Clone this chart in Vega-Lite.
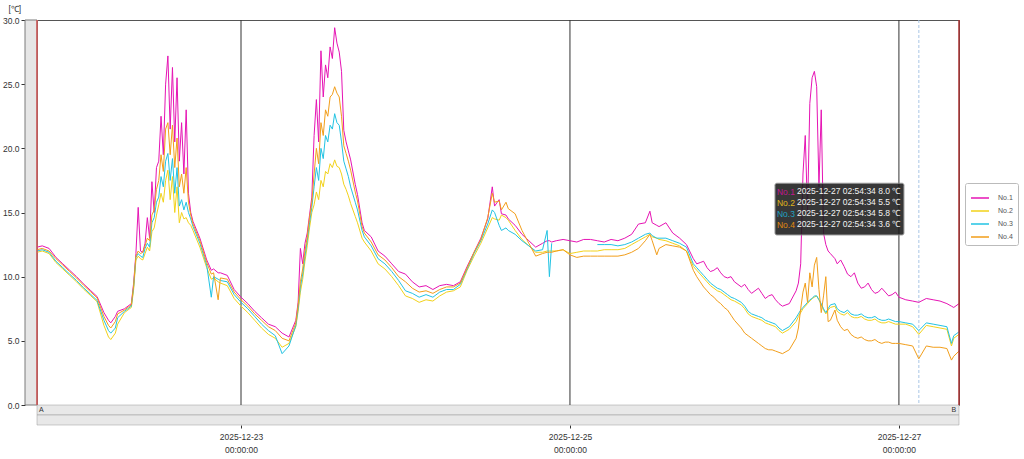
{
  "$schema": "https://vega.github.io/schema/vega-lite/v6.json",
  "width": 922,
  "height": 385,
  "autosize": {"type": "none"},
  "padding": {"left": 37, "top": 20, "right": 65, "bottom": 54},
  "background": "white",
  "config": {"view": {"stroke": "#555", "strokeWidth": 1}, "font": "Liberation Sans"},
  "data": {"values": [{}]},
  "datasets": {
    "temps": [
      {"t":"2025-12-21T18:14","n1":12.3,"n2":11.9,"n3":12.0,"n4":12.1},
      {"t":"2025-12-21T19:00","n1":12.4,"n2":12.0,"n3":12.1,"n4":12.2},
      {"t":"2025-12-21T20:00","n1":12.2,"n2":11.8,"n3":11.9,"n4":12.0},
      {"t":"2025-12-21T21:00","n1":11.5,"n2":11.1,"n3":11.2,"n4":11.4},
      {"t":"2025-12-21T22:00","n1":11.0,"n2":10.6,"n3":10.7,"n4":10.9},
      {"t":"2025-12-21T23:00","n1":10.5,"n2":10.1,"n3":10.2,"n4":10.4},
      {"t":"2025-12-22T00:00","n1":10.0,"n2":9.6,"n3":9.7,"n4":9.9},
      {"t":"2025-12-22T01:00","n1":9.45,"n2":9.05,"n3":9.15,"n4":9.35},
      {"t":"2025-12-22T02:00","n1":8.95,"n2":8.55,"n3":8.65,"n4":8.85},
      {"t":"2025-12-22T03:00","n1":8.45,"n2":8.05,"n3":8.15,"n4":8.35},
      {"t":"2025-12-22T04:00","n1":7.2,"n2":6.2,"n3":6.6,"n4":6.9},
      {"t":"2025-12-22T04:40","n1":6.6,"n2":5.3,"n3":5.8,"n4":6.2},
      {"t":"2025-12-22T05:00","n1":6.4,"n2":5.1,"n3":5.6,"n4":6.0},
      {"t":"2025-12-22T05:40","n1":6.9,"n2":5.6,"n3":6.0,"n4":6.5},
      {"t":"2025-12-22T06:00","n1":7.3,"n2":6.3,"n3":6.8,"n4":7.1},
      {"t":"2025-12-22T07:00","n1":7.5,"n2":7.2,"n3":7.3,"n4":7.4},
      {"t":"2025-12-22T08:00","n1":7.9,"n2":7.6,"n3":7.7,"n4":7.8},
      {"t":"2025-12-22T08:20","n1":9.5,"n2":9.0,"n3":9.2,"n4":9.3},
      {"t":"2025-12-22T08:40","n1":11.8,"n2":11.3,"n3":11.5,"n4":11.6},
      {"t":"2025-12-22T09:00","n1":15.4,"n2":11.6,"n3":11.8,"n4":12.0},
      {"t":"2025-12-22T09:20","n1":12.0,"n2":11.4,"n3":11.6,"n4":11.8},
      {"t":"2025-12-22T09:40","n1":11.9,"n2":11.3,"n3":11.5,"n4":11.9},
      {"t":"2025-12-22T10:00","n1":12.6,"n2":11.8,"n3":12.2,"n4":12.4},
      {"t":"2025-12-22T10:20","n1":14.6,"n2":12.3,"n3":12.6,"n4":13.0},
      {"t":"2025-12-22T10:40","n1":13.0,"n2":12.0,"n3":12.3,"n4":12.8},
      {"t":"2025-12-22T11:00","n1":17.4,"n2":13.5,"n3":14.2,"n4":14.8},
      {"t":"2025-12-22T11:20","n1":15.0,"n2":13.8,"n3":14.6,"n4":15.2},
      {"t":"2025-12-22T11:40","n1":18.5,"n2":14.8,"n3":15.8,"n4":16.8},
      {"t":"2025-12-22T12:00","n1":19.0,"n2":15.6,"n3":16.2,"n4":17.5},
      {"t":"2025-12-22T12:20","n1":22.5,"n2":16.5,"n3":17.8,"n4":19.5},
      {"t":"2025-12-22T12:40","n1":19.5,"n2":15.8,"n3":17.0,"n4":18.2},
      {"t":"2025-12-22T13:00","n1":25.0,"n2":17.5,"n3":19.0,"n4":21.5},
      {"t":"2025-12-22T13:20","n1":27.2,"n2":18.3,"n3":19.6,"n4":22.0},
      {"t":"2025-12-22T13:40","n1":21.5,"n2":16.0,"n3":17.5,"n4":19.5},
      {"t":"2025-12-22T14:00","n1":26.3,"n2":17.8,"n3":19.2,"n4":21.8},
      {"t":"2025-12-22T14:20","n1":20.5,"n2":15.0,"n3":16.5,"n4":18.5},
      {"t":"2025-12-22T14:40","n1":25.5,"n2":17.0,"n3":18.5,"n4":20.8},
      {"t":"2025-12-22T15:00","n1":19.0,"n2":14.2,"n3":15.5,"n4":17.0},
      {"t":"2025-12-22T15:20","n1":22.0,"n2":15.0,"n3":16.0,"n4":18.0},
      {"t":"2025-12-22T15:40","n1":18.0,"n2":14.5,"n3":15.2,"n4":16.5},
      {"t":"2025-12-22T16:00","n1":23.0,"n2":14.6,"n3":15.8,"n4":18.5},
      {"t":"2025-12-22T16:20","n1":16.5,"n2":14.2,"n3":15.0,"n4":15.8},
      {"t":"2025-12-22T16:40","n1":15.0,"n2":14.0,"n3":14.5,"n4":14.8},
      {"t":"2025-12-22T17:00","n1":14.3,"n2":13.6,"n3":13.9,"n4":14.1},
      {"t":"2025-12-22T18:00","n1":13.0,"n2":12.3,"n3":12.6,"n4":12.8},
      {"t":"2025-12-22T19:00","n1":11.3,"n2":10.7,"n3":10.9,"n4":11.1},
      {"t":"2025-12-22T19:40","n1":10.5,"n2":9.8,"n3":8.4,"n4":10.2},
      {"t":"2025-12-22T20:00","n1":10.6,"n2":9.9,"n3":10.0,"n4":10.3},
      {"t":"2025-12-22T20:40","n1":10.3,"n2":9.6,"n3":9.8,"n4":8.2},
      {"t":"2025-12-22T21:00","n1":10.3,"n2":9.5,"n3":9.7,"n4":9.9},
      {"t":"2025-12-22T22:00","n1":10.1,"n2":9.3,"n3":9.6,"n4":9.8},
      {"t":"2025-12-22T23:00","n1":9.0,"n2":8.3,"n3":8.6,"n4":8.8},
      {"t":"2025-12-23T00:00","n1":8.4,"n2":7.7,"n3":8.0,"n4":8.2},
      {"t":"2025-12-23T01:00","n1":7.9,"n2":7.2,"n3":7.5,"n4":7.7},
      {"t":"2025-12-23T02:00","n1":7.3,"n2":6.6,"n3":6.9,"n4":7.1},
      {"t":"2025-12-23T03:00","n1":6.8,"n2":6.0,"n3":6.3,"n4":6.6},
      {"t":"2025-12-23T04:00","n1":6.3,"n2":5.5,"n3":5.8,"n4":6.1},
      {"t":"2025-12-23T05:00","n1":6.1,"n2":5.2,"n3":5.4,"n4":5.8},
      {"t":"2025-12-23T06:00","n1":5.6,"n2":4.5,"n3":4.0,"n4":5.2},
      {"t":"2025-12-23T07:00","n1":5.3,"n2":4.8,"n3":4.6,"n4":5.0},
      {"t":"2025-12-23T08:00","n1":6.6,"n2":6.1,"n3":6.2,"n4":6.4},
      {"t":"2025-12-23T08:20","n1":8.0,"n2":7.3,"n3":7.5,"n4":7.8},
      {"t":"2025-12-23T08:40","n1":12.2,"n2":8.8,"n3":9.2,"n4":9.6},
      {"t":"2025-12-23T09:00","n1":11.0,"n2":9.8,"n3":10.2,"n4":10.6},
      {"t":"2025-12-23T09:20","n1":12.6,"n2":11.2,"n3":11.6,"n4":12.0},
      {"t":"2025-12-23T09:40","n1":13.4,"n2":12.4,"n3":12.8,"n4":13.1},
      {"t":"2025-12-23T10:00","n1":14.8,"n2":13.8,"n3":14.2,"n4":14.6},
      {"t":"2025-12-23T10:20","n1":16.2,"n2":15.0,"n3":15.4,"n4":15.8},
      {"t":"2025-12-23T10:40","n1":21.0,"n2":15.6,"n3":17.0,"n4":18.0},
      {"t":"2025-12-23T11:00","n1":23.8,"n2":16.6,"n3":18.5,"n4":20.0},
      {"t":"2025-12-23T11:20","n1":20.5,"n2":16.0,"n3":17.5,"n4":18.8},
      {"t":"2025-12-23T11:40","n1":27.6,"n2":17.5,"n3":20.0,"n4":22.0},
      {"t":"2025-12-23T12:00","n1":24.0,"n2":17.0,"n3":19.2,"n4":21.0},
      {"t":"2025-12-23T12:20","n1":26.5,"n2":18.2,"n3":21.0,"n4":23.0},
      {"t":"2025-12-23T12:40","n1":25.5,"n2":18.0,"n3":20.5,"n4":22.5},
      {"t":"2025-12-23T13:00","n1":27.9,"n2":18.8,"n3":21.8,"n4":24.0},
      {"t":"2025-12-23T13:20","n1":27.0,"n2":18.5,"n3":21.5,"n4":24.2},
      {"t":"2025-12-23T13:40","n1":29.4,"n2":19.1,"n3":22.7,"n4":24.8},
      {"t":"2025-12-23T14:00","n1":28.2,"n2":18.6,"n3":22.0,"n4":24.3},
      {"t":"2025-12-23T14:20","n1":27.5,"n2":18.5,"n3":21.8,"n4":24.0},
      {"t":"2025-12-23T14:40","n1":26.0,"n2":18.0,"n3":20.5,"n4":22.5},
      {"t":"2025-12-23T15:00","n1":21.4,"n2":17.2,"n3":19.0,"n4":20.2},
      {"t":"2025-12-23T15:20","n1":20.5,"n2":16.8,"n3":18.4,"n4":19.6},
      {"t":"2025-12-23T15:40","n1":19.8,"n2":16.3,"n3":17.8,"n4":19.0},
      {"t":"2025-12-23T16:00","n1":19.1,"n2":15.7,"n3":17.0,"n4":18.3},
      {"t":"2025-12-23T16:40","n1":17.2,"n2":14.7,"n3":15.8,"n4":16.6},
      {"t":"2025-12-23T17:00","n1":16.4,"n2":14.2,"n3":15.2,"n4":15.9},
      {"t":"2025-12-23T17:40","n1":14.2,"n2":13.0,"n3":13.6,"n4":13.9},
      {"t":"2025-12-23T18:00","n1":13.6,"n2":12.7,"n3":13.1,"n4":13.4},
      {"t":"2025-12-23T19:00","n1":13.1,"n2":12.0,"n3":12.4,"n4":12.7},
      {"t":"2025-12-23T20:00","n1":12.0,"n2":11.0,"n3":11.4,"n4":11.7},
      {"t":"2025-12-23T21:00","n1":11.6,"n2":10.6,"n3":11.0,"n4":11.3},
      {"t":"2025-12-23T22:00","n1":11.0,"n2":10.0,"n3":10.4,"n4":10.7},
      {"t":"2025-12-23T23:00","n1":10.4,"n2":9.3,"n3":9.7,"n4":10.0},
      {"t":"2025-12-24T00:00","n1":10.2,"n2":8.5,"n3":8.9,"n4":9.6},
      {"t":"2025-12-24T01:00","n1":9.6,"n2":8.3,"n3":8.7,"n4":9.1},
      {"t":"2025-12-24T02:00","n1":9.2,"n2":8.0,"n3":8.4,"n4":8.8},
      {"t":"2025-12-24T03:00","n1":9.3,"n2":8.2,"n3":8.6,"n4":8.9},
      {"t":"2025-12-24T04:00","n1":9.0,"n2":8.1,"n3":8.4,"n4":8.7},
      {"t":"2025-12-24T05:00","n1":9.3,"n2":8.5,"n3":8.8,"n4":9.0},
      {"t":"2025-12-24T06:00","n1":9.4,"n2":8.8,"n3":9.0,"n4":9.2},
      {"t":"2025-12-24T07:00","n1":9.3,"n2":8.9,"n3":9.0,"n4":9.2},
      {"t":"2025-12-24T08:00","n1":9.6,"n2":9.2,"n3":9.4,"n4":9.5},
      {"t":"2025-12-24T09:00","n1":10.8,"n2":10.5,"n3":10.6,"n4":10.7},
      {"t":"2025-12-24T10:00","n1":11.9,"n2":11.6,"n3":11.8,"n4":11.9},
      {"t":"2025-12-24T11:00","n1":13.0,"n2":12.6,"n3":12.8,"n4":12.9},
      {"t":"2025-12-24T12:00","n1":14.5,"n2":13.8,"n3":14.1,"n4":14.6},
      {"t":"2025-12-24T12:40","n1":17.0,"n2":14.6,"n3":15.2,"n4":16.5},
      {"t":"2025-12-24T13:00","n1":15.5,"n2":14.5,"n3":15.0,"n4":15.8},
      {"t":"2025-12-24T13:40","n1":16.0,"n2":14.4,"n3":14.0,"n4":15.9},
      {"t":"2025-12-24T14:00","n1":14.9,"n2":14.8,"n3":13.6,"n4":15.2},
      {"t":"2025-12-24T14:40","n1":14.8,"n2":14.6,"n3":13.8,"n4":15.8},
      {"t":"2025-12-24T15:00","n1":14.5,"n2":14.4,"n3":13.6,"n4":15.3},
      {"t":"2025-12-24T16:00","n1":14.0,"n2":13.6,"n3":13.3,"n4":14.9},
      {"t":"2025-12-24T17:00","n1":13.3,"n2":12.9,"n3":12.8,"n4":13.6},
      {"t":"2025-12-24T18:00","n1":12.8,"n2":12.4,"n3":12.4,"n4":12.6},
      {"t":"2025-12-24T19:00","n1":12.3,"n2":11.9,"n3":12.0,"n4":11.6},
      {"t":"2025-12-24T20:00","n1":12.6,"n2":11.9,"n3":12.1,"n4":11.8},
      {"t":"2025-12-24T20:40","n1":12.8,"n2":12.0,"n3":13.6,"n4":11.9},
      {"t":"2025-12-24T21:00","n1":12.8,"n2":12.0,"n3":10.0,"n4":11.9},
      {"t":"2025-12-24T21:20","n1":12.7,"n2":12.0,"n3":12.6,"n4":11.9},
      {"t":"2025-12-24T22:00","n1":12.8,"n2":12.0,"n3":null,"n4":12.0},
      {"t":"2025-12-24T23:00","n1":12.9,"n2":12.1,"n3":null,"n4":12.1},
      {"t":"2025-12-25T00:00","n1":12.8,"n2":11.8,"n3":null,"n4":11.7},
      {"t":"2025-12-25T01:00","n1":12.7,"n2":11.9,"n3":null,"n4":11.5},
      {"t":"2025-12-25T02:00","n1":12.9,"n2":12.0,"n3":null,"n4":11.6},
      {"t":"2025-12-25T03:00","n1":12.9,"n2":12.0,"n3":null,"n4":11.6},
      {"t":"2025-12-25T04:00","n1":12.8,"n2":12.0,"n3":12.5,"n4":11.6},
      {"t":"2025-12-25T05:00","n1":12.7,"n2":12.1,"n3":12.5,"n4":11.6},
      {"t":"2025-12-25T06:00","n1":12.9,"n2":12.1,"n3":12.5,"n4":11.6},
      {"t":"2025-12-25T07:00","n1":12.8,"n2":12.1,"n3":12.4,"n4":11.6},
      {"t":"2025-12-25T08:00","n1":13.0,"n2":12.2,"n3":12.5,"n4":11.7},
      {"t":"2025-12-25T09:00","n1":13.3,"n2":12.5,"n3":12.7,"n4":11.9},
      {"t":"2025-12-25T10:00","n1":14.1,"n2":12.8,"n3":13.0,"n4":12.2},
      {"t":"2025-12-25T11:00","n1":14.2,"n2":13.1,"n3":13.3,"n4":12.8},
      {"t":"2025-12-25T11:40","n1":15.1,"n2":13.3,"n3":13.4,"n4":13.3},
      {"t":"2025-12-25T12:00","n1":14.2,"n2":13.1,"n3":13.2,"n4":12.8},
      {"t":"2025-12-25T12:40","n1":14.0,"n2":13.0,"n3":13.0,"n4":11.7},
      {"t":"2025-12-25T13:00","n1":13.9,"n2":12.9,"n3":13.0,"n4":12.2},
      {"t":"2025-12-25T14:00","n1":14.2,"n2":12.8,"n3":13.0,"n4":12.5},
      {"t":"2025-12-25T15:00","n1":13.4,"n2":12.6,"n3":12.8,"n4":12.4},
      {"t":"2025-12-25T16:00","n1":13.0,"n2":12.4,"n3":12.6,"n4":12.3},
      {"t":"2025-12-25T17:00","n1":12.5,"n2":12.0,"n3":12.3,"n4":12.0},
      {"t":"2025-12-25T18:00","n1":11.4,"n2":10.8,"n3":11.0,"n4":10.5},
      {"t":"2025-12-25T18:30","n1":11.0,"n2":10.5,"n3":10.7,"n4":10.0},
      {"t":"2025-12-25T19:00","n1":11.1,"n2":10.2,"n3":10.4,"n4":9.6},
      {"t":"2025-12-25T19:30","n1":11.2,"n2":9.9,"n3":10.1,"n4":9.2},
      {"t":"2025-12-25T20:00","n1":10.7,"n2":9.6,"n3":9.8,"n4":8.9},
      {"t":"2025-12-25T20:30","n1":10.4,"n2":9.3,"n3":9.5,"n4":8.6},
      {"t":"2025-12-25T21:00","n1":10.5,"n2":9.1,"n3":9.3,"n4":8.4},
      {"t":"2025-12-25T21:30","n1":10.7,"n2":8.9,"n3":9.1,"n4":8.1},
      {"t":"2025-12-25T22:00","n1":10.3,"n2":8.8,"n3":9.0,"n4":7.9},
      {"t":"2025-12-25T22:30","n1":10.0,"n2":8.6,"n3":8.8,"n4":7.6},
      {"t":"2025-12-25T23:00","n1":9.9,"n2":8.4,"n3":8.6,"n4":7.4},
      {"t":"2025-12-25T23:30","n1":10.0,"n2":8.2,"n3":8.4,"n4":7.0},
      {"t":"2025-12-26T00:00","n1":9.6,"n2":8.1,"n3":8.3,"n4":6.6},
      {"t":"2025-12-26T01:00","n1":9.2,"n2":7.8,"n3":8.0,"n4":6.0},
      {"t":"2025-12-26T01:30","n1":9.4,"n2":7.5,"n3":7.7,"n4":5.6},
      {"t":"2025-12-26T02:00","n1":9.0,"n2":7.1,"n3":7.3,"n4":5.4},
      {"t":"2025-12-26T02:30","n1":8.7,"n2":6.9,"n3":7.1,"n4":5.2},
      {"t":"2025-12-26T03:00","n1":8.9,"n2":6.8,"n3":7.0,"n4":5.0},
      {"t":"2025-12-26T03:30","n1":9.1,"n2":6.7,"n3":6.9,"n4":4.8},
      {"t":"2025-12-26T04:00","n1":8.7,"n2":6.6,"n3":6.8,"n4":4.6},
      {"t":"2025-12-26T04:30","n1":8.3,"n2":6.4,"n3":6.6,"n4":4.4},
      {"t":"2025-12-26T05:00","n1":8.5,"n2":6.3,"n3":6.5,"n4":4.3},
      {"t":"2025-12-26T05:30","n1":8.6,"n2":6.2,"n3":6.4,"n4":4.3},
      {"t":"2025-12-26T06:00","n1":8.2,"n2":6.1,"n3":6.3,"n4":4.2},
      {"t":"2025-12-26T06:30","n1":7.9,"n2":5.8,"n3":6.0,"n4":4.1},
      {"t":"2025-12-26T07:00","n1":7.7,"n2":5.6,"n3":5.8,"n4":4.0},
      {"t":"2025-12-26T08:00","n1":7.9,"n2":5.9,"n3":6.1,"n4":4.3},
      {"t":"2025-12-26T09:00","n1":8.9,"n2":6.5,"n3":6.8,"n4":5.2},
      {"t":"2025-12-26T09:20","n1":9.5,"n2":6.9,"n3":7.1,"n4":6.0},
      {"t":"2025-12-26T09:40","n1":11.0,"n2":7.2,"n3":7.4,"n4":7.5},
      {"t":"2025-12-26T10:00","n1":18.0,"n2":7.5,"n3":7.6,"n4":8.8},
      {"t":"2025-12-26T10:20","n1":21.0,"n2":7.7,"n3":7.8,"n4":9.5},
      {"t":"2025-12-26T10:40","n1":15.0,"n2":7.9,"n3":8.0,"n4":8.0},
      {"t":"2025-12-26T11:00","n1":23.5,"n2":8.1,"n3":8.2,"n4":10.3},
      {"t":"2025-12-26T11:20","n1":25.5,"n2":8.3,"n3":8.3,"n4":9.2},
      {"t":"2025-12-26T11:40","n1":26.0,"n2":8.4,"n3":8.5,"n4":10.9},
      {"t":"2025-12-26T12:00","n1":24.8,"n2":8.5,"n3":8.5,"n4":11.5},
      {"t":"2025-12-26T12:20","n1":17.0,"n2":8.2,"n3":8.2,"n4":9.0},
      {"t":"2025-12-26T12:40","n1":23.0,"n2":7.8,"n3":7.9,"n4":7.2},
      {"t":"2025-12-26T13:00","n1":13.4,"n2":7.4,"n3":7.5,"n4":8.5},
      {"t":"2025-12-26T13:20","n1":12.5,"n2":7.1,"n3":7.2,"n4":10.0},
      {"t":"2025-12-26T13:40","n1":12.0,"n2":7.4,"n3":7.5,"n4":6.5},
      {"t":"2025-12-26T14:00","n1":11.8,"n2":7.6,"n3":7.8,"n4":6.6},
      {"t":"2025-12-26T14:40","n1":11.4,"n2":7.7,"n3":7.9,"n4":7.4},
      {"t":"2025-12-26T15:00","n1":11.0,"n2":7.3,"n3":7.5,"n4":6.6},
      {"t":"2025-12-26T15:30","n1":11.3,"n2":7.1,"n3":7.3,"n4":6.1},
      {"t":"2025-12-26T16:00","n1":10.8,"n2":7.0,"n3":7.2,"n4":5.8},
      {"t":"2025-12-26T16:30","n1":10.2,"n2":7.2,"n3":7.4,"n4":5.9},
      {"t":"2025-12-26T17:00","n1":10.0,"n2":6.9,"n3":7.1,"n4":5.5},
      {"t":"2025-12-26T17:30","n1":10.3,"n2":6.8,"n3":7.0,"n4":5.3},
      {"t":"2025-12-26T18:00","n1":9.5,"n2":6.8,"n3":7.0,"n4":5.2},
      {"t":"2025-12-26T18:30","n1":9.1,"n2":6.9,"n3":7.1,"n4":5.3},
      {"t":"2025-12-26T19:00","n1":9.2,"n2":6.7,"n3":6.9,"n4":5.1},
      {"t":"2025-12-26T19:30","n1":9.5,"n2":6.6,"n3":6.8,"n4":5.0},
      {"t":"2025-12-26T20:00","n1":9.0,"n2":6.6,"n3":6.8,"n4":5.0},
      {"t":"2025-12-26T20:30","n1":8.7,"n2":6.7,"n3":6.9,"n4":5.1},
      {"t":"2025-12-26T21:00","n1":8.8,"n2":6.5,"n3":6.7,"n4":4.9},
      {"t":"2025-12-26T21:30","n1":9.1,"n2":6.4,"n3":6.6,"n4":4.8},
      {"t":"2025-12-26T22:00","n1":8.8,"n2":6.4,"n3":6.6,"n4":4.9},
      {"t":"2025-12-26T22:30","n1":8.5,"n2":6.5,"n3":6.7,"n4":4.9},
      {"t":"2025-12-26T23:00","n1":8.6,"n2":6.4,"n3":6.6,"n4":4.8},
      {"t":"2025-12-26T23:30","n1":8.8,"n2":6.3,"n3":6.5,"n4":4.8},
      {"t":"2025-12-27T00:00","n1":8.4,"n2":6.3,"n3":6.5,"n4":4.8},
      {"t":"2025-12-27T01:00","n1":8.2,"n2":6.3,"n3":6.4,"n4":4.7},
      {"t":"2025-12-27T02:00","n1":8.1,"n2":6.1,"n3":6.3,"n4":4.6},
      {"t":"2025-12-27T02:54","n1":8.0,"n2":5.5,"n3":5.8,"n4":3.6},
      {"t":"2025-12-27T04:00","n1":8.3,"n2":6.2,"n3":6.4,"n4":4.6},
      {"t":"2025-12-27T05:00","n1":8.2,"n2":6.1,"n3":6.3,"n4":4.5},
      {"t":"2025-12-27T06:00","n1":8.1,"n2":6.0,"n3":6.2,"n4":4.5},
      {"t":"2025-12-27T07:00","n1":7.9,"n2":5.9,"n3":6.1,"n4":4.4},
      {"t":"2025-12-27T07:40","n1":7.7,"n2":4.6,"n3":4.8,"n4":3.5},
      {"t":"2025-12-27T08:00","n1":7.6,"n2":5.2,"n3":5.4,"n4":3.8},
      {"t":"2025-12-27T08:46","n1":7.9,"n2":5.5,"n3":5.7,"n4":4.2}
    ],
    "days": [{"d":"2025-12-23T00:00"},{"d":"2025-12-25T00:00"},{"d":"2025-12-27T00:00"}]
  },
  "layer": [
    {
      "mark": {"type": "rect", "fill": "#e6e6e6", "stroke": "#7a7a7a", "strokeWidth": 1},
      "encoding": {
        "x": {"datum": {"year":2025,"month":12,"date":21,"hours":16,"minutes":29}, "type": "temporal"},
        "x2": {"datum": {"year":2025,"month":12,"date":21,"hours":18,"minutes":14}},
        "y": {"datum": 0, "type": "quantitative"},
        "y2": {"datum": 30}
      }
    },
    {
      "mark": {"type": "rect", "fill": "#e8e8e8", "stroke": "#9a9a9a", "strokeWidth": 0.5},
      "encoding": {
        "x": {"datum": {"year":2025,"month":12,"date":21,"hours":18,"minutes":14}, "type": "temporal"},
        "x2": {"datum": {"year":2025,"month":12,"date":27,"hours":8,"minutes":46}},
        "y": {"datum": 0, "type": "quantitative"},
        "y2": {"datum": -0.78}
      }
    },
    {
      "mark": {"type": "rect", "fill": "#e8e8e8", "stroke": "#9a9a9a", "strokeWidth": 0.5},
      "encoding": {
        "x": {"datum": {"year":2025,"month":12,"date":21,"hours":18,"minutes":14}, "type": "temporal"},
        "x2": {"datum": {"year":2025,"month":12,"date":27,"hours":8,"minutes":46}},
        "y": {"datum": -0.78, "type": "quantitative"},
        "y2": {"datum": -1.56}
      }
    },
    {
      "mark": {"type": "text", "text": "A", "fontSize": 7, "color": "#333"},
      "encoding": {
        "x": {"datum": {"year":2025,"month":12,"date":21,"hours":18,"minutes":52}, "type": "temporal"},
        "y": {"datum": -0.39, "type": "quantitative"}
      }
    },
    {
      "mark": {"type": "text", "text": "B", "fontSize": 7, "color": "#333"},
      "encoding": {
        "x": {"datum": {"year":2025,"month":12,"date":27,"hours":8,"minutes":0}, "type": "temporal"},
        "y": {"datum": -0.39, "type": "quantitative"}
      }
    },
    {
      "data": {"name": "days"},
      "mark": {"type": "rule", "color": "#333", "strokeWidth": 1},
      "encoding": {
        "x": {"field": "d", "type": "temporal"}
      }
    },
    {
      "mark": {"type": "rule", "color": "#a9c6e6", "strokeWidth": 1, "strokeDash": [3, 2]},
      "encoding": {
        "x": {"datum": {"year":2025,"month":12,"date":27,"hours":2,"minutes":54,"seconds":34}, "type": "temporal"}
      }
    },
    {
      "data": {"name": "temps"},
      "transform": [{"fold": ["n1", "n2", "n3", "n4"], "as": ["series", "value"]}],
      "mark": {"type": "line", "strokeWidth": 1, "invalid": "break-paths-show-domains"},
      "encoding": {
        "x": {
          "field": "t", "type": "temporal", "title": null,
          "scale": {"domain": [{"year":2025,"month":12,"date":21,"hours":18,"minutes":14}, {"year":2025,"month":12,"date":27,"hours":8,"minutes":46}]},
          "axis": {
            "values": [{"year":2025,"month":12,"date":23}, {"year":2025,"month":12,"date":25}, {"year":2025,"month":12,"date":27}],
            "labelExpr": "[timeFormat(datum.value, '%Y-%m-%d'), timeFormat(datum.value, '%H:%M:%S')]",
            "grid": false, "domain": false, "offset": 20, "tickSize": 3, "tickColor": "#333",
            "labelPadding": 4, "labelFontSize": 8.5, "labelColor": "#333", "labelLineHeight": 13
          }
        },
        "y": {
          "field": "value", "type": "quantitative", "title": "[℃]",
          "scale": {"domain": [0, 30], "nice": false},
          "axis": {
            "values": [0, 5, 10, 15, 20, 25, 30], "format": ".1f",
            "grid": false, "domain": false, "offset": 12, "tickSize": 4, "tickColor": "#333",
            "labelFontSize": 8.5, "labelColor": "#333", "labelPadding": 2,
            "titleAngle": 0, "titleX": -17, "titleY": -12, "titleAlign": "left", "titleBaseline": "middle",
            "titleFontSize": 8.5, "titleFontWeight": "normal", "titleColor": "#333"
          }
        },
        "color": {
          "field": "series", "type": "nominal",
          "scale": {"domain": ["n1", "n2", "n3", "n4"], "range": ["#e614b4", "#f2d21a", "#22c3e3", "#f29e1a"]},
          "legend": {
            "title": null, "orient": "none", "legendX": 928, "legendY": 163,
            "symbolType": "stroke", "symbolSize": 324, "symbolStrokeWidth": 1.5,
            "labelFontSize": 7, "labelColor": "#555", "labelExpr": "'No.' + substring(datum.label, 1)",
            "padding": 5, "rowPadding": -3, "strokeColor": "#bbb", "fillColor": "white", "labelOffset": 8, "cornerRadius": 2
          }
        }
      }
    },
    {
      "mark": {"type": "rule", "color": "#d65a5a", "strokeWidth": 1.5},
      "encoding": {
        "x": {"datum": {"year":2025,"month":12,"date":21,"hours":18,"minutes":14}, "type": "temporal"}
      }
    },
    {
      "mark": {"type": "rule", "color": "#a83030", "strokeWidth": 1.5},
      "encoding": {
        "x": {"datum": {"year":2025,"month":12,"date":27,"hours":8,"minutes":46}, "type": "temporal"}
      }
    },
    {
      "mark": {"type": "rect", "fill": "#1c1c1c", "opacity": 0.88, "stroke": "#888", "strokeWidth": 1, "cornerRadius": 2},
      "encoding": {
        "x": {"datum": {"year":2025,"month":12,"date":26,"hours":5,"minutes":55}, "type": "temporal"},
        "x2": {"datum": {"year":2025,"month":12,"date":27,"hours":0,"minutes":44}},
        "y": {"datum": 17.28, "type": "quantitative"},
        "y2": {"datum": 13.25}
      }
    },
    {
      "mark": {"type": "text", "text": ["2025-12-27 02:54:34 8.0 ℃", "2025-12-27 02:54:34 5.5 ℃", "2025-12-27 02:54:34 5.8 ℃", "2025-12-27 02:54:34 3.6 ℃"], "align": "left", "baseline": "top", "lineHeight": 11, "fontSize": 8.5, "color": "#f2f2f2"},
      "encoding": {
        "x": {"datum": {"year":2025,"month":12,"date":26,"hours":9,"minutes":7}, "type": "temporal"},
        "y": {"datum": 16.99, "type": "quantitative"}
      }
    },
    {
      "mark": {"type": "text", "text": "No.1", "align": "left", "baseline": "middle", "fontSize": 8.5, "color": "#c0168f"},
      "encoding": {
        "x": {"datum": {"year":2025,"month":12,"date":26,"hours":6,"minutes":12}, "type": "temporal"},
        "y": {"datum": 16.6, "type": "quantitative"}
      }
    },
    {
      "mark": {"type": "text", "text": "No.2", "align": "left", "baseline": "middle", "fontSize": 8.5, "color": "#e0b81a"},
      "encoding": {
        "x": {"datum": {"year":2025,"month":12,"date":26,"hours":6,"minutes":12}, "type": "temporal"},
        "y": {"datum": 15.74, "type": "quantitative"}
      }
    },
    {
      "mark": {"type": "text", "text": "No.3", "align": "left", "baseline": "middle", "fontSize": 8.5, "color": "#1fa3c4"},
      "encoding": {
        "x": {"datum": {"year":2025,"month":12,"date":26,"hours":6,"minutes":12}, "type": "temporal"},
        "y": {"datum": 14.88, "type": "quantitative"}
      }
    },
    {
      "mark": {"type": "text", "text": "No.4", "align": "left", "baseline": "middle", "fontSize": 8.5, "color": "#e08a10"},
      "encoding": {
        "x": {"datum": {"year":2025,"month":12,"date":26,"hours":6,"minutes":12}, "type": "temporal"},
        "y": {"datum": 14.02, "type": "quantitative"}
      }
    }
  ]
}
